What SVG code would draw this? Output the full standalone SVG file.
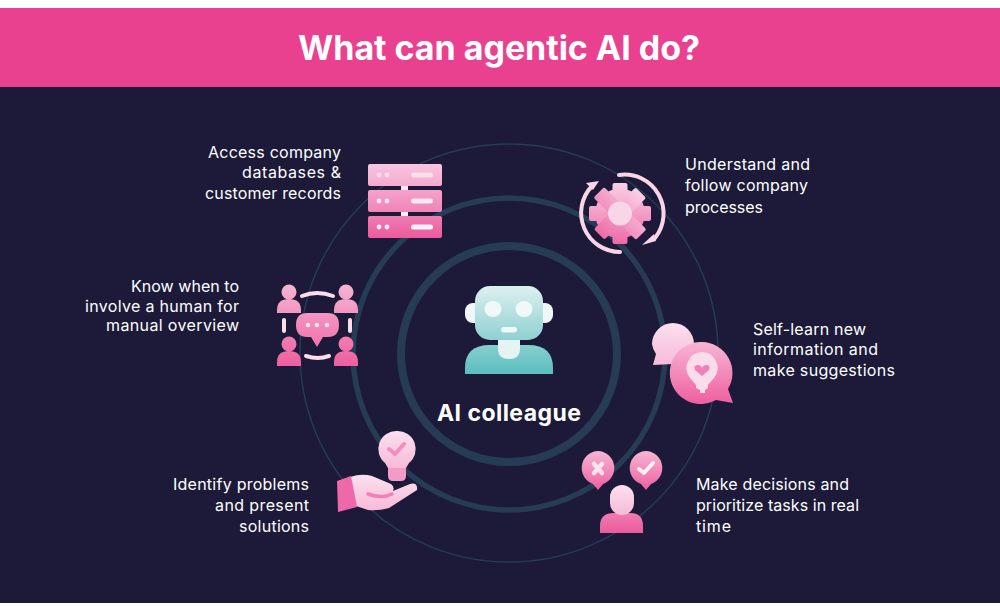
<svg xmlns="http://www.w3.org/2000/svg" width="1000" height="606" viewBox="0 0 1000 606">
<style>
.t{font-family:Inter,"Open Sans","Liberation Sans",sans-serif;font-size:16px;fill:#fff;font-weight:400}
.e{text-anchor:end}
.ring{fill:none;stroke:#263B54}
</style>
<defs>
<linearGradient id="pk" x1="0" y1="0" x2="0" y2="1"><stop offset="0" stop-color="#F7B6D4"/><stop offset="1" stop-color="#EE5F9F"/></linearGradient>
<linearGradient id="lt" x1="0" y1="0" x2="0" y2="1"><stop offset="0" stop-color="#FBE0EE"/><stop offset="1" stop-color="#F7BAD8"/></linearGradient>
<linearGradient id="s1" x1="0" y1="0" x2="0" y2="1"><stop offset="0" stop-color="#F8C5DE"/><stop offset="1" stop-color="#F5A9CE"/></linearGradient>
<linearGradient id="s2" x1="0" y1="0" x2="0" y2="1"><stop offset="0" stop-color="#F5A3CA"/><stop offset="1" stop-color="#F083B6"/></linearGradient>
<linearGradient id="s3" x1="0" y1="0" x2="0" y2="1"><stop offset="0" stop-color="#F07DB2"/><stop offset="1" stop-color="#EC5A9C"/></linearGradient>
<linearGradient id="gear" gradientUnits="userSpaceOnUse" x1="0" y1="182" x2="0" y2="245"><stop offset="0" stop-color="#F9D3E6"/><stop offset="1" stop-color="#EE68A6"/></linearGradient>
<linearGradient id="ppl" gradientUnits="userSpaceOnUse" x1="0" y1="285" x2="0" y2="366"><stop offset="0" stop-color="#F6B3D2"/><stop offset="1" stop-color="#EE5F9F"/></linearGradient>
<linearGradient id="head" x1="0" y1="0" x2="0" y2="1"><stop offset="0" stop-color="#DDF0F0"/><stop offset="1" stop-color="#8FD0D1"/></linearGradient>
<linearGradient id="body" x1="0" y1="0" x2="0" y2="1"><stop offset="0" stop-color="#88CFCF"/><stop offset="1" stop-color="#5BBDBF"/></linearGradient>
</defs>

<rect width="1000" height="606" fill="#fff"/>
<rect y="86" width="1000" height="517" fill="#1C1A38"/>
<rect y="8" width="1000" height="79" fill="#E94190"/>
<text x="499" y="60" text-anchor="middle" textLength="402" lengthAdjust="spacing" style="font-family:Inter,'Open Sans','Liberation Sans',sans-serif;font-size:34px;font-weight:700;fill:#fff">What can agentic AI do?</text>

<g id="connectors">
<circle class="ring" cx="509" cy="353" r="209" stroke-width="1.5"/>
<circle class="ring" cx="509" cy="354" r="156" stroke-width="5.5"/>
<circle class="ring" cx="509" cy="354" r="108" stroke-width="8"/>
</g>

<g id="node-center">
<rect x="465" y="303" width="20" height="20" rx="8" fill="#F0F7F8"/>
<rect x="533" y="303" width="20" height="20" rx="8" fill="#F0F7F8"/>
<path d="M465 374V368Q465 345 490 345H528Q553 345 553 368V374Z" fill="url(#body)"/>
<path d="M498 336H520V349Q520 359 509 359Q498 359 498 349Z" fill="#E4F3F4"/>
<rect x="475" y="286" width="68" height="54" rx="15" fill="url(#head)"/>
<ellipse cx="493" cy="309" rx="8.5" ry="8" fill="#F0F8F8"/>
<ellipse cx="524" cy="309" rx="8.5" ry="8" fill="#F0F8F8"/>
<rect x="501" y="327" width="16" height="5.5" rx="2.7" fill="#F0F8F8"/>
<text x="509" y="421" text-anchor="middle" textLength="144" lengthAdjust="spacing" style="font-family:Inter,'Open Sans','Liberation Sans',sans-serif;font-size:23px;font-weight:700;fill:#fff">AI colleague</text>
</g>

<g id="node-databases">
<rect x="401" y="184" width="7" height="8" fill="#FBE3EF"/><rect x="401" y="210" width="7" height="8" fill="#FDF1F7"/>
<rect x="368" y="164" width="74" height="22" rx="2" fill="url(#s1)"/>
<rect x="368" y="190" width="74" height="22" rx="2" fill="url(#s2)"/>
<rect x="368" y="216" width="74" height="22" rx="2" fill="url(#s3)"/>
<g fill="#FBDDEB"><circle cx="379" cy="175" r="2.4"/><circle cx="387" cy="175" r="2.4"/><rect x="411" y="172.500" width="22" height="5" rx="2.500"/></g>
<g fill="#FCE8F2"><circle cx="379" cy="201" r="2.400"/><circle cx="387" cy="201" r="2.400"/><rect x="411" y="198.500" width="22" height="5" rx="2.500"/></g>
<g fill="#FEF5FA"><circle cx="379" cy="227" r="2.400"/><circle cx="387" cy="227" r="2.400"/><rect x="411" y="224.500" width="22" height="5" rx="2.500"/></g>
<text class="t e" x="341" y="158" textLength="133" lengthAdjust="spacing">Access company</text>
<text class="t e" x="341" y="178" textLength="99" lengthAdjust="spacing">databases &amp;</text>
<text class="t e" x="341" y="199" textLength="136" lengthAdjust="spacing">customer records</text>
</g>

<g id="node-processes">
<g fill="url(#gear)">
<circle cx="620" cy="213.500" r="25"/>
<rect x="612.500" y="183" width="15" height="61" rx="2"/>
<rect x="589" y="206" width="62" height="15" rx="2"/>
<rect x="612.500" y="184" width="15" height="59" rx="2" transform="rotate(45 620 213.500)"/>
<rect x="590" y="206" width="60" height="15" rx="2" transform="rotate(45 620 213.500)"/>
</g>
<circle cx="620" cy="213.500" r="12" fill="#F9D5E8"/>
<g fill="none" stroke="#FAD4E7" stroke-width="4" stroke-linecap="round">
<path d="M619 175A39 39 0 0 1 655 238"/>
<path d="M620 252A39 39 0 0 1 592 186"/>
</g>
<path d="M586 183L599 181L593 190Z" fill="#FAD4E7"/>
<path d="M654 234L656 241L642 245Z" fill="#FAD4E7"/>
<text class="t" x="685" y="170" textLength="125" lengthAdjust="spacing">Understand and</text>
<text class="t" x="685" y="191" textLength="123" lengthAdjust="spacing">follow company</text>
<text class="t" x="685" y="212.500" textLength="78" lengthAdjust="spacing">processes</text>
</g>

<g id="node-selflearn">
<path d="M673 323A21 21 0 0 1 694 344A21 21 0 0 1 673 364L653 365L656 354A21 21 0 0 1 652 344A21 21 0 0 1 673 323Z" fill="url(#lt)"/>
<path d="M702 342A31 31 0 0 1 728 389L733 403L716 400A31 31 0 1 1 702 342Z" fill="url(#pk)"/>
<path d="M702 352A16 16 0 0 1 714 378L708 385V388L705 390V393H700V390L696 388V385L690 378A16 16 0 0 1 702 352Z" fill="#FBDCEB"/>
<path d="M702 376L695 370Q693 365 698 365Q701 365 702 368Q703 365 706 365Q711 365 709 370Z" fill="#F27FB5"/>
<text class="t" x="753" y="335" textLength="113" lengthAdjust="spacing">Self-learn new</text>
<text class="t" x="753" y="355" textLength="125" lengthAdjust="spacing">information and</text>
<text class="t" x="753" y="376" textLength="142" lengthAdjust="spacing">make suggestions</text>
</g>

<g id="node-decisions">
<path d="M598 451A17 17 0 0 1 603 484L598 490L593 484A17 17 0 0 1 598 451Z" fill="url(#pk)"/>
<path d="M646 451A17 17 0 0 1 651 484L646 490L641 484A17 17 0 0 1 646 451Z" fill="url(#pk)"/>
<path d="M594 464L602 473M602 464L594 473" stroke="#FBE3EF" stroke-width="4.500" stroke-linecap="round"/>
<path d="M639 469L644 473L653 463" fill="none" stroke="#FDF0F7" stroke-width="4" stroke-linecap="round" stroke-linejoin="round"/>
<path d="M600 533V526Q600 513 614 513H630Q643 513 643 526V533Z" fill="url(#s3)"/>
<rect x="610" y="485" width="24" height="30" rx="12" fill="url(#lt)"/>
<text class="t" x="696" y="490" textLength="153" lengthAdjust="spacing">Make decisions and</text>
<text class="t" x="696" y="511" textLength="163" lengthAdjust="spacing">prioritize tasks in real</text>
<text class="t" x="696" y="532" textLength="35" lengthAdjust="spacing">time</text>
</g>

<g id="node-problems">
<path d="M388 464H406V476Q406 481 401 481H393Q388 481 388 476Z" fill="#F39BC5"/>
<path d="M397 431A18 18 0 0 1 409 463L406 468H388L385 463A18 18 0 0 1 397 431Z" fill="url(#lt)"/>
<path d="M389 449L395 454L404 444" fill="none" stroke="#F38DBE" stroke-width="4" stroke-linecap="round" stroke-linejoin="round"/>
<path d="M350 477Q362 473 372 476L391 484Q395 487 393 491L410 484Q418 482 417 490L389 508Q378 511 368 510L356 506Z" fill="url(#lt)"/>
<path d="M337 481L351 476L357 507L338 512Z" fill="#EE69A7"/>
<path d="M368 494Q382 499 392 494" fill="none" stroke="#F27FB5" stroke-width="3.500" stroke-linecap="round"/>
<text class="t e" x="309" y="490" textLength="136" lengthAdjust="spacing">Identify problems</text>
<text class="t e" x="309" y="511" textLength="94" lengthAdjust="spacing">and present</text>
<text class="t e" x="309" y="532" textLength="70" lengthAdjust="spacing">solutions</text>
</g>

<g id="node-human">
<g fill="url(#ppl)">
<circle cx="289" cy="292" r="7.500"/><circle cx="346" cy="292" r="7.500"/>
<circle cx="289" cy="344" r="7.500"/><circle cx="346" cy="344" r="7.500"/>
<path d="M277 313V310Q277 299 289 299Q301 299 301 310V313Z"/>
<path d="M334 313V310Q334 299 346 299Q358 299 358 310V313Z"/>
<path d="M277 366V362Q277 351 289 351Q301 351 301 362V366Z"/>
<path d="M334 366V362Q334 351 346 351Q358 351 358 362V366Z"/>
<path d="M307 313H328Q339 313 339 325Q339 337 328 337H323L317 347L311 337H307Q296 337 296 325Q296 313 307 313Z"/>
</g>
<g fill="#FBDDEB"><circle cx="308" cy="325" r="2.300"/><circle cx="317" cy="325" r="2.300"/><circle cx="327" cy="325" r="2.300"/></g>
<g fill="none" stroke="#FBDDEB" stroke-width="4" stroke-linecap="round">
<path d="M302 296Q317 290 333 296"/>
<path d="M306 356Q318 360 329 356"/>
<path d="M284 320V331"/>
<path d="M350 320V331"/>
</g>
<text class="t e" x="239" y="292" textLength="108" lengthAdjust="spacing">Know when to</text>
<text class="t e" x="239" y="312" textLength="154" lengthAdjust="spacing">involve a human for</text>
<text class="t e" x="239" y="331" textLength="133" lengthAdjust="spacing">manual overview</text>
</g>
</svg>
